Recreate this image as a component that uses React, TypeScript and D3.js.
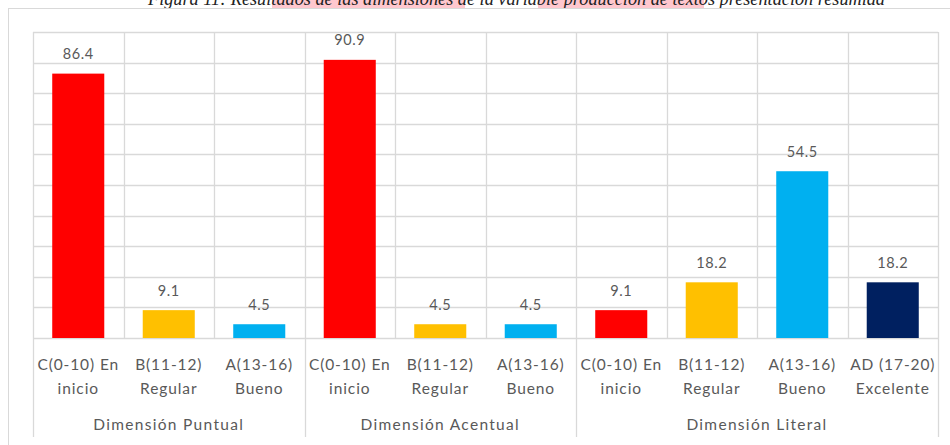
import React from "react";
import * as d3 from "d3";

const titleText = "Figura 11: Resultados de las dimensiones de la variable producción de textos presentación resumida";
const groupNames = ["Dimensión Puntual", "Dimensión Acentual", "Dimensión Literal"];
const categoryGroup = [0, 0, 0, 1, 1, 1, 2, 2, 2, 2];
const categoryLine1 = ["C(0-10) En", "B(11-12)", "A(13-16)", "C(0-10) En", "B(11-12)", "A(13-16)", "C(0-10) En", "B(11-12)", "A(13-16)", "AD (17-20)"];
const categoryLine2 = ["inicio", "Regular", "Bueno", "inicio", "Regular", "Bueno", "inicio", "Regular", "Bueno", "Excelente"];
const categoryLevel = ["C", "B", "A", "C", "B", "A", "C", "B", "A", "AD"];
const values = [86.4, 9.1, 4.5, 90.9, 4.5, 4.5, 9.1, 18.2, 54.5, 18.2];
const yTicks = [0, 10, 20, 30, 40, 50, 60, 70, 80, 90, 100];

const levelColor: Record<string, string> = {
  C: "#FF0000",
  B: "#FFC000",
  A: "#00B0F0",
  AD: "#002060",
};

const W = 950;
const H = 445;
const plotL = 33;
const plotR = 938;
const plotT = 32;
const plotB = 338;
const FONT = "Lato, 'Open Sans', sans-serif";
const GRID = "#D9D9D9";
const TEXT = "#595959";

export default function App() {
  const idx = values.map((_, i) => i);
  const x = d3.scaleBand<number>().domain(idx).range([plotL, plotR]).padding(0);
  const y = d3.scaleLinear().domain([0, 100]).range([plotB, plotT]);
  const step = x.step();
  const bw = step * 0.575;

  const groupStart: number[] = [];
  const groupEnd: number[] = [];
  groupNames.forEach((_, g) => {
    const members = idx.filter((i) => categoryGroup[i] === g);
    groupStart.push(x(members[0])!);
    groupEnd.push(x(members[members.length - 1])! + step);
  });

  return (
    <svg
      width={W}
      height={H}
      style={{ position: "absolute", left: 0, top: 0, background: "#fff" }}
    >
      {/* title (cut off at top, as in the source page) */}
      <rect x={272} y={0} width={193} height={8} fill="#FFC7CE" />
      <rect x={538} y={0} width={166} height={8} fill="#FFC7CE" />
      <text
        x={148}
        y={5}
        fontFamily="'Liberation Serif', 'DejaVu Serif', serif"
        fontStyle="italic"
        fontSize={18.5}
        fill="#222"
        textLength={737}
        lengthAdjust="spacingAndGlyphs"
      >
        {titleText}
      </text>

      {/* outer frame */}
      <rect x={8.5} y={8.5} width={960} height={460} fill="none" stroke={GRID} strokeWidth={1} />

      {/* horizontal gridlines */}
      {yTicks.map((t) => (
        <line
          key={"h" + t}
          x1={plotL}
          x2={plotR}
          y1={Math.round(y(t)) + 0.5}
          y2={Math.round(y(t)) + 0.5}
          stroke={GRID}
          strokeWidth={t === 0 ? 1.5 : 1.3}
        />
      ))}

      {/* vertical gridlines in plot area */}
      {idx.concat([idx.length]).map((i) => {
        const xx = i < idx.length ? x(i)! : plotR;
        return (
          <line
            key={"v" + i}
            x1={Math.round(xx) + 0.5}
            x2={Math.round(xx) + 0.5}
            y1={plotT}
            y2={plotB}
            stroke={GRID}
            strokeWidth={1.3}
          />
        );
      })}

      {/* group separators extending below axis */}
      {groupStart.concat([groupEnd[groupEnd.length - 1]]).map((gx, k) => (
        <line
          key={"g" + k}
          x1={Math.round(gx) + 0.5}
          x2={Math.round(gx) + 0.5}
          y1={plotB}
          y2={437}
          stroke={GRID}
          strokeWidth={1.3}
        />
      ))}

      {/* bars */}
      {values.map((v, i) => (
        <rect
          key={"b" + i}
          x={x(i)! + (step - bw) / 2}
          y={y(v)}
          width={bw}
          height={y(0) - y(v)}
          fill={levelColor[categoryLevel[i]]}
        />
      ))}

      {/* value labels */}
      {values.map((v, i) => (
        <text
          key={"l" + i}
          x={x(i)! + step / 2}
          y={y(v) - 14.5}
          textAnchor="middle"
          fontFamily={FONT}
          fontSize={14.5}
          letterSpacing={0.6}
          fill={TEXT}
        >
          {v.toFixed(1)}
        </text>
      ))}

      {/* category labels */}
      {idx.map((i) => (
        <g key={"c" + i} fontFamily={FONT} fontSize={15.5} letterSpacing={0.9} fill={TEXT} textAnchor="middle">
          <text x={x(i)! + step / 2} y={370}>
            {categoryLine1[i]}
          </text>
          <text x={x(i)! + step / 2} y={394}>
            {categoryLine2[i]}
          </text>
        </g>
      ))}

      {/* group labels */}
      {groupNames.map((g, k) => (
        <text
          key={"gl" + k}
          x={(groupStart[k] + groupEnd[k]) / 2}
          y={430}
          textAnchor="middle"
          fontFamily={FONT}
          fontSize={15.5}
          letterSpacing={1.3}
          fill={TEXT}
        >
          {g}
        </text>
      ))}
    </svg>
  );
}
